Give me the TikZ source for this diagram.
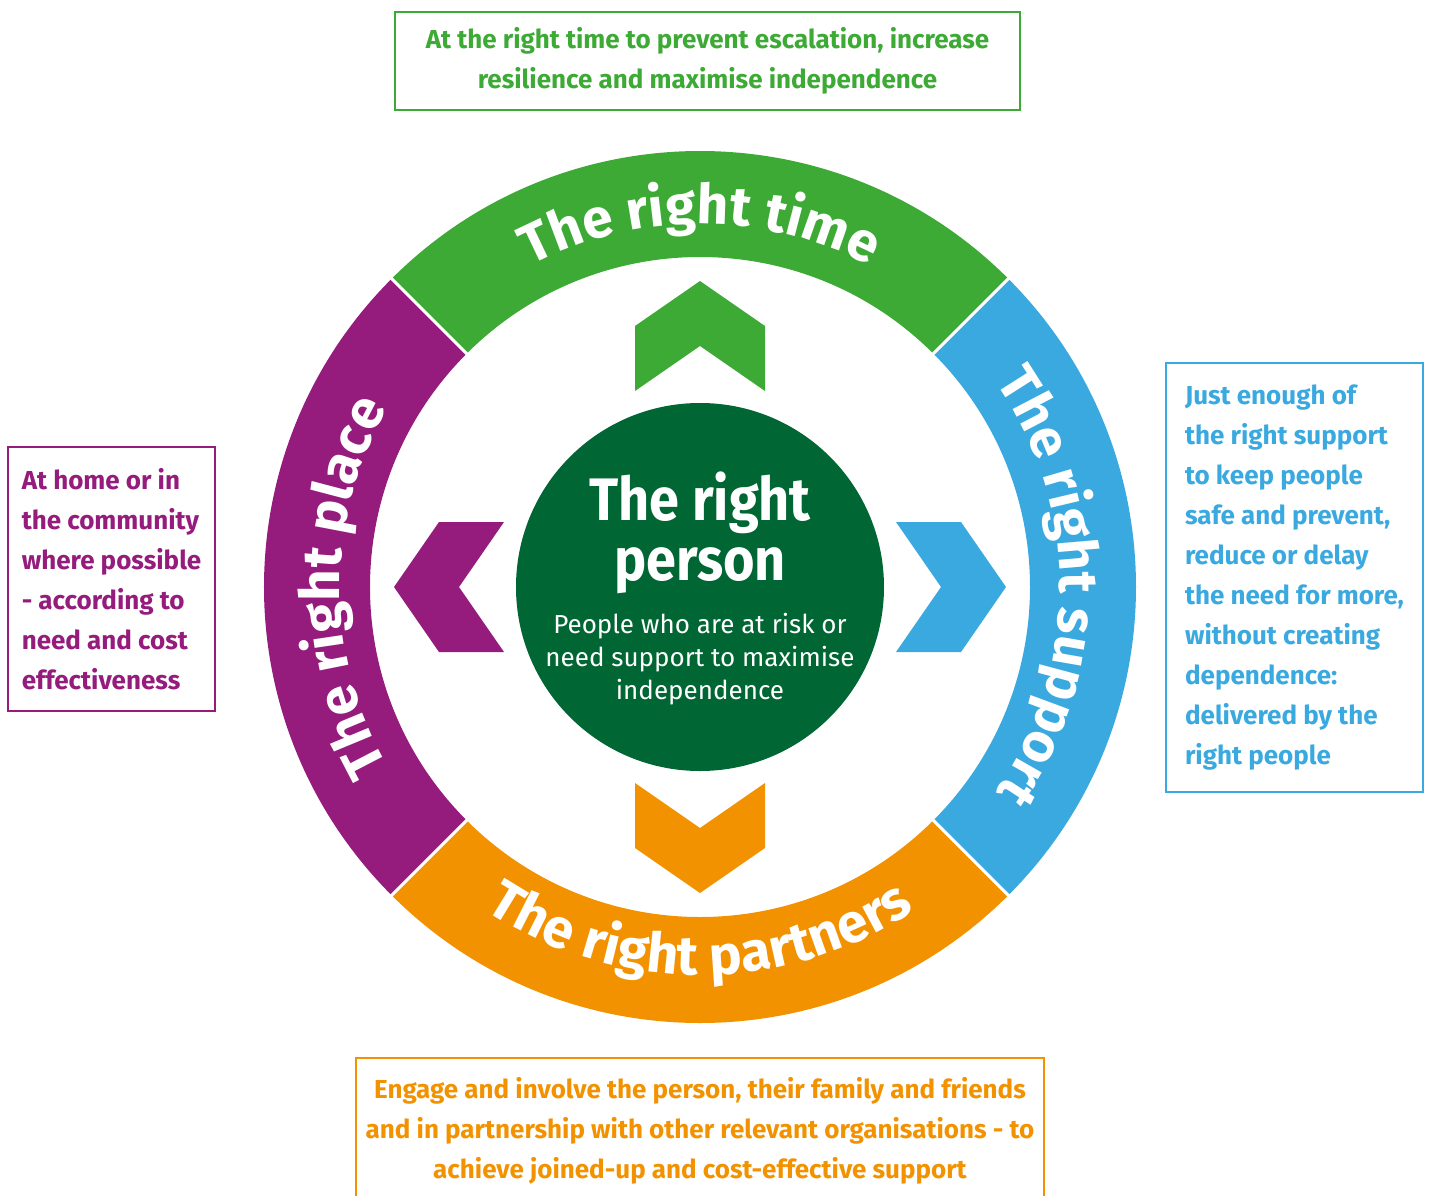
\documentclass[tikz,border=0pt]{standalone}
\usepackage{fontspec}
\setmainfont{Fira Sans}
\newfontfamily\titlefont[FakeStretch=0.9]{Fira Sans}
\usetikzlibrary{decorations.text}

\definecolor{timegreen}{HTML}{3DAA35}
\definecolor{placepurple}{HTML}{951B7D}
\definecolor{supportblue}{HTML}{3AA9E0}
\definecolor{partnerorange}{HTML}{F39200}
\definecolor{persongreen}{HTML}{006633}
\newcommand{\ringfont}{\fontsize{55}{55}\selectfont\bfseries}

\begin{document}
\begin{tikzpicture}[x=1pt,y=1pt,
		infobox/.style={draw=#1, text=#1, line width=2pt, inner sep=0pt,
			font=\bfseries\fontsize{26}{40}\selectfont},
		ringtext/.style={decorate, decoration={text along path, text align=center,
			text color=white, text={|\ringfont|#1}}}]

		\useasboundingbox (-700,587) rectangle (731,-608);

		% ring segments
		\foreach \start/\col in {45/timegreen, 135/placepurple, 225/partnerorange, 315/supportblue}
			\fill[\col] (\start:436) arc[start angle=\start, delta angle=90, radius=436]
				-- (\start+90:330) arc[start angle=\start+90, delta angle=-90, radius=330] -- cycle;
		\foreach \a in {45,135,225,315}
			\draw[white, line width=3pt] (\a:325) -- (\a:441);

		% chevrons
		\foreach \ang/\col in {0/timegreen, 90/placepurple, 180/partnerorange, 270/supportblue}
			\fill[\col, rotate=\ang] (0,306) -- (65,261) -- (65,196) -- (0,241) -- (-65,196) -- (-65,261) -- cycle;

		\node[circle, fill=persongreen, minimum size=368pt, inner sep=0pt] (person) at (0,0) {};
		\node[text=white, align=center, inner sep=0pt, font=\titlefont\fontsize{60}{60}\selectfont\bfseries]
			(persontitle) at (0,54) {The right\\person};
		\node[text=white, align=center, inner sep=0pt, font=\fontsize{26}{33}\selectfont]
			(personsub) at (0,-72) {People who are at risk or\\need support to maximise\\independence};

		\path[ringtext={The right time}] (150:363) arc[start angle=150, end angle=30, radius=363];
		\path[ringtext={The right support}] (60:360) arc[start angle=60, end angle=-60, radius=360];
		\path[ringtext={The right place}] (240:360) arc[start angle=240, end angle=120, radius=360];
		\path[ringtext={The right partners}] (210:388) arc[start angle=210, end angle=330, radius=388];

		\node[infobox=timegreen, minimum width=625pt, minimum height=98pt, align=center]
			(timebox) at (7.5,526) {At the right time to prevent escalation, increase\\resilience and maximise independence};
		\node[infobox=supportblue, minimum width=257pt, minimum height=429pt, align=left]
			(supportbox) at (594.5,9.5) {Just enough of\\the right support\\to keep people\\safe and prevent,\\reduce or delay\\the need for more,\\without creating\\dependence:\\delivered by the\\right people};
		\node[infobox=placepurple, minimum width=207pt, minimum height=264pt, align=left]
			(placebox) at (-588.5,8) {At home or in\\the community\\where possible\\- according to\\need and cost\\effectiveness};
		\node[infobox=partnerorange, minimum width=688pt, minimum height=145pt, align=center]
			(partnerbox) at (0,-543.5) {Engage and involve the person, their family and friends\\and in partnership with other relevant organisations - to\\achieve joined-up and cost-effective support};

\end{tikzpicture}
\end{document}
